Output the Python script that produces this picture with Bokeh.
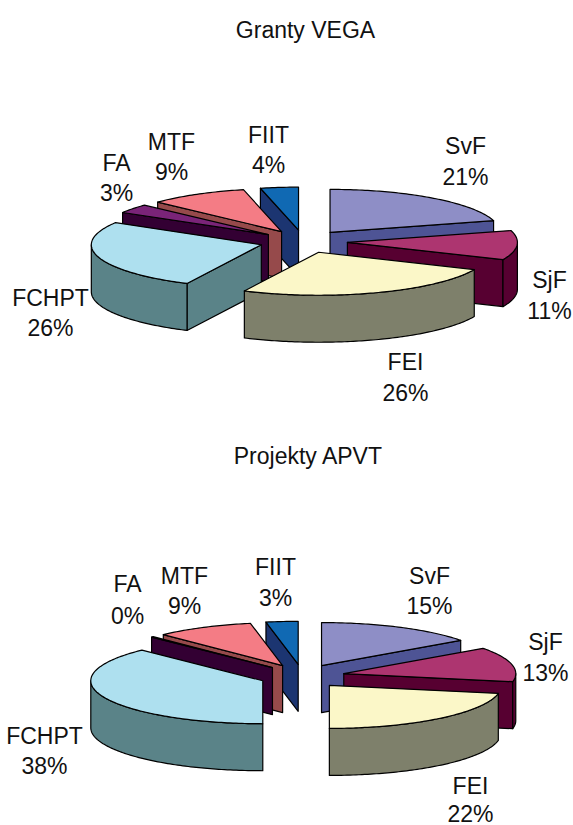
import math
from bokeh.plotting import figure
from bokeh.embed import file_html
from bokeh.resources import INLINE
from bokeh.core.properties import value

categories = ["SvF", "SjF", "FEI", "FCHPT", "FA", "MTF", "FIIT"]
vega_values = [20.6, 11, 25.6, 26.4, 3.4, 9.4, 3.6]
apvt_values = [15, 13, 22, 37.6, 0.2, 9.2, 3]
vega_labels = ["21%", "11%", "26%", "26%", "3%", "9%", "4%"]
apvt_labels = ["15%", "13%", "22%", "38%", "0%", "9%", "3%"]
titles = ["Granty VEGA", "Projekty APVT"]

top_colors = ["#8E8EC6", "#AD3570", "#FBF7C8", "#AEE0EF", "#7A2478", "#F47C85", "#1069B3"]
side_colors = ["#4E5495", "#570031", "#7E806B", "#5A8388", "#330033", "#964A4B", "#1C3571"]

W, H = 573, 825
p = figure(width=W, height=H, x_range=(0, W), y_range=(H, 0),
           toolbar_location=None, output_backend="svg", min_border=0,
           outline_line_color=None, background_fill_color="white")
p.xaxis.visible = False
p.yaxis.visible = False
p.grid.visible = False


def draw_pie(values, cx, cy, rx, ry, depth, explode, squash):
    total = sum(values)
    slices = []
    acc = 0.0
    for i, v in enumerate(values):
        a0 = acc / total * 360
        acc += v
        a1 = acc / total * 360
        mid = math.radians((a0 + a1) / 2)
        ax = cx + explode * math.sin(mid)
        ay = cy - explode * squash * math.cos(mid)
        slices.append((ay, i, a0, a1, ax))
    xs, ys, fills = [], [], []

    def pt(ax, ay, deg):
        t = math.radians(deg)
        return ax + rx * math.sin(t), ay - ry * math.cos(t)

    def arc(ax, ay, d0, d1):
        n = max(2, int(abs(d1 - d0)) + 2)
        return [pt(ax, ay, d0 + (d1 - d0) * k / (n - 1)) for k in range(n)]

    def add(points, color):
        xs.append([q[0] for q in points])
        ys.append([q[1] for q in points])
        fills.append(color)

    for ay, i, a0, a1, ax in sorted(slices):
        side = side_colors[i]
        if math.sin(math.radians(a0)) < -1e-6:
            e = pt(ax, ay, a0)
            add([(ax, ay), e, (e[0], e[1] + depth), (ax, ay + depth)], side)
        if math.sin(math.radians(a1)) > 1e-6:
            e = pt(ax, ay, a1)
            add([(ax, ay), e, (e[0], e[1] + depth), (ax, ay + depth)], side)
        lo, hi = max(a0, 90), min(a1, 270)
        if hi > lo:
            rim = arc(ax, ay, lo, hi)
            add(rim + [(q[0], q[1] + depth) for q in reversed(rim)], side)
        add([(ax, ay)] + arc(ax, ay, a0, a1), top_colors[i])
    p.patches(xs, ys, fill_color=fills, line_color="#000000", line_width=1.2,
              line_join="round")


def draw_texts(xs, ys, texts, size):
    p.text(xs, ys, text=texts, text_font=value("Liberation Sans"), text_font_size=size,
           text_color="#111111", text_align="center", text_baseline="middle")


FS = "23px"
draw_pie(vega_values, 303, 241, 170, 43, 47, 44, 0.26)
draw_pie(apvt_values, 301.7, 675.7, 172, 43, 47, 42.6, 0.28)

vega_name_x = [465, 549, 405, 50, 116, 171, 268]
vega_name_y = [145, 279, 361, 297, 162, 141, 134]
vega_pct_y = [176, 310, 392, 327, 192, 171, 164]
apvt_name_x = [429, 545, 470, 44, 127, 184, 275]
apvt_name_y = [575, 641, 785, 735, 583, 575, 566]
apvt_pct_y = [605, 672, 813, 765, 615, 605, 597]

draw_texts([305, 308], [29, 455], titles, FS)
draw_texts(vega_name_x, vega_name_y, categories, FS)
draw_texts(vega_name_x, vega_pct_y, vega_labels, FS)
draw_texts(apvt_name_x, apvt_name_y, categories, FS)
draw_texts(apvt_name_x, apvt_pct_y, apvt_labels, FS)

open("out.html", "w").write(file_html(p, INLINE))
